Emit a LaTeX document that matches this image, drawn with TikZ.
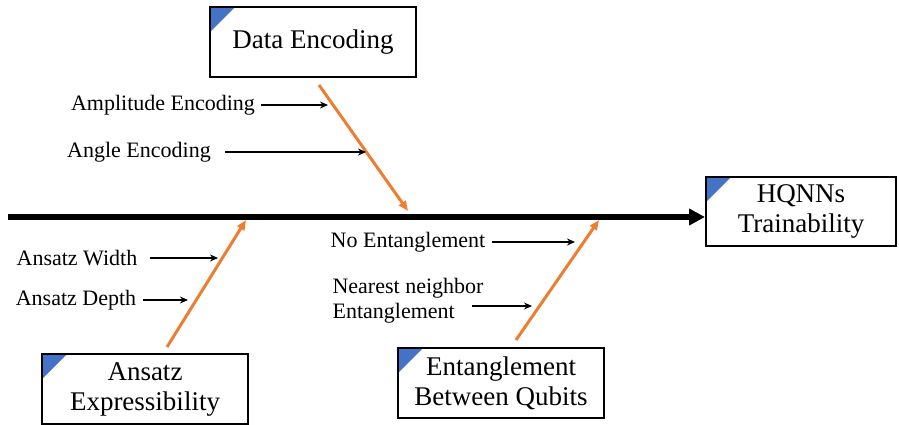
\documentclass[tikz,border=0pt]{standalone}
\usepackage{fontspec}
\setmainfont{Liberation Serif}
\usetikzlibrary{arrows.meta}

\definecolor{bonecol}{HTML}{ED7D31}
\definecolor{tabcol}{HTML}{4472C4}

\tikzset{
  cause/.style={draw, line width=1pt, align=center, inner sep=2pt,
    minimum width=103pt, minimum height=35pt,
    font=\fontsize{13.5}{15}\selectfont,
    path picture={\fill[tabcol] (path picture bounding box.north west)
      -- +(12.5pt,0) -- +(0,-12.5pt) -- cycle;}},
  factor/.style={align=left, inner sep=3pt, font=\fontsize{11}{12.5}\selectfont},
  sub/.style={-{Stealth[length=4pt,width=3.5pt]}, line width=0.8pt},
  bone/.style={-{Triangle[length=5pt,width=4pt]}, line width=1.5pt, draw=bonecol},
}

\begin{document}
\begin{tikzpicture}[x=0.5pt, y=-0.5pt]
\useasboundingbox (0,0) rectangle (899,424);

% main categories
\node[cause] (data) at (313,42) {Data Encoding};
\node[cause, minimum width=95pt, minimum height=34.5pt] (head) at (801,211.5) {HQNNs\\Trainability};
\node[cause] (ansatz) at (145,389) {Ansatz\\Expressibility};
\node[cause] (ent) at (501,383) {Entanglement\\Between Qubits};

% spine
\coordinate (tail) at (8,217);
\draw[line width=3pt, -{Triangle[length=8pt,width=8pt]}] (tail) -- (tail -| head.west);

% bones
\coordinate (data top) at (319,85);
\coordinate (data end) at (408,211);
\coordinate (ansatz top) at (167,347);
\coordinate (ansatz end) at (246,220);
\coordinate (ent top) at (516,340);
\coordinate (ent end) at (599,220);
\draw[bone] (data top) -- (data end);
\draw[bone] (ansatz top) -- (ansatz end);
\draw[bone] (ent top) -- (ent end);

% sub causes
\node[factor] (amp) at (163,105) {Amplitude Encoding};
\node[factor] (angle) at (139,152) {Angle Encoding};
\node[factor] (width) at (77,258) {Ansatz Width};
\node[factor] (depth) at (76,300) {Ansatz Depth};
\node[factor] (none) at (408,242) {No Entanglement};
\node[factor] (near) at (408,301) {Nearest neighbor\\Entanglement};

\coordinate (amp tip) at (328,0);
\coordinate (angle tip) at (358,0);
\coordinate (width tip) at (212,0);
\coordinate (depth tip) at (188,0);
\coordinate (none tip) at (575,0);
\coordinate (near tip) at (532,0);
\draw[sub] (amp.east) -- (amp.east -| amp tip);
\draw[sub] ([xshift=4pt]angle.east) -- ([xshift=4pt]angle.east -| angle tip);
\draw[sub] ([xshift=3pt]width.east) -- ([xshift=3pt]width.east -| width tip);
\draw[sub] (depth.east) -- (depth.east -| depth tip);
\draw[sub] (none.east) -- (none.east -| none tip);
\draw[sub] ([xshift=-9pt,yshift=-2.5pt]near.east) -- ([yshift=-2.5pt]near.east -| near tip);

\end{tikzpicture}
\end{document}
